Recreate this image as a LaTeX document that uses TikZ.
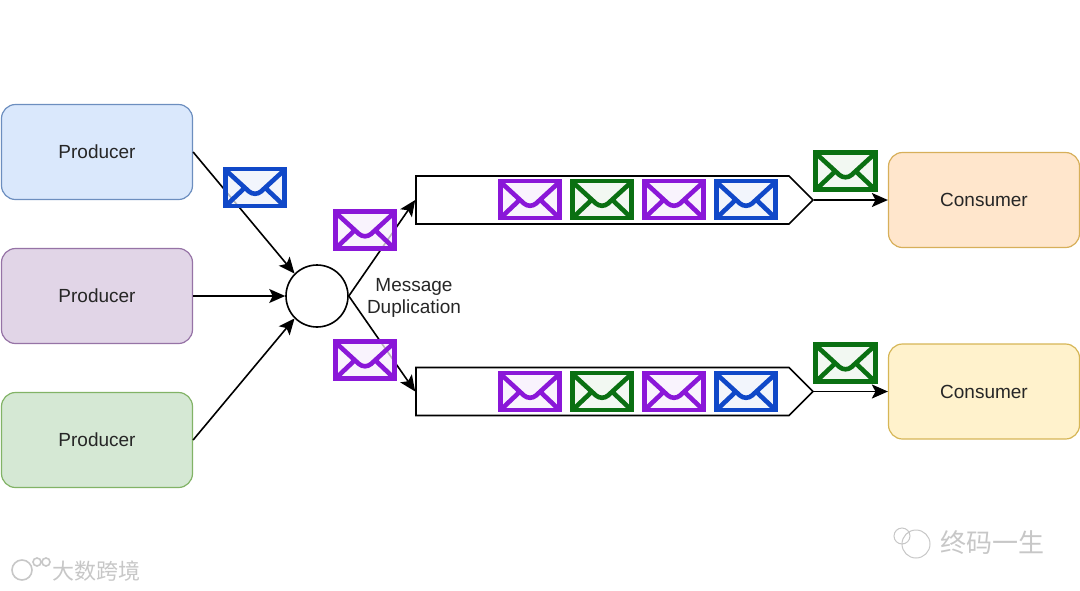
\documentclass[tikz,border=0pt]{standalone}
\usepackage{fontspec}
\setmainfont{Liberation Sans}
\newfontfamily\cjk{Noto Sans CJK SC}
\usetikzlibrary{arrows.meta,shapes.symbols}

\definecolor{envblue}{HTML}{1048C8}
\definecolor{envpurple}{HTML}{8A17D8}
\definecolor{envgreen}{HTML}{0A7012}

\tikzset{
  basic/.style    = {draw, rounded corners=14pt, minimum width=191pt, minimum height=95pt, line width=1.2pt,
                     font=\fontsize{19}{22}\selectfont, text=black!85},
  producer/.style = {basic},
  consumer/.style = {basic},
  queue/.style    = {draw, line width=1.6pt, shape=signal, signal to=east, signal pointer angle=90,
                     minimum width=397pt, minimum height=48pt, inner sep=0pt},
  envelope/.style = {draw=#1, fill=#1!7, fill opacity=.75, line width=4.6pt, minimum width=59.5pt, minimum height=37pt,
                     inner sep=0pt, path picture={
                       \draw[#1, line width=4.6pt, shift={(path picture bounding box.center)}]
                         (-30,-18) -- (-6,4) to[bend right=40] (6,4) -- (30,-18)
                         (-30,19) -- (-11,1) (30,19) -- (11,1);}},
  mark text/.style = {font=\cjk\fontsize{#1}{#1}\selectfont, text=black!22}
}

\begin{document}
\begin{tikzpicture}[x=1pt, y=-1pt, >={Stealth[length=16pt,width=14pt,inset=3.5pt]}]
\useasboundingbox (0,0) rectangle (1080,590);

% sources on the left
\node[producer, fill={rgb,255:red,218;green,232;blue,252}, draw={rgb,255:red,108;green,142;blue,191}] (p1) at (97,152) {Producer};
\node[producer, fill={rgb,255:red,225;green,213;blue,231}, draw={rgb,255:red,150;green,115;blue,166}] (p2) at (97,296) {Producer};
\node[producer, fill={rgb,255:red,213;green,232;blue,212}, draw={rgb,255:red,130;green,179;blue,102}] (p3) at (97,440) {Producer};

% the fan-out point and its label
\node[draw, circle, line width=1.6pt, minimum size=62pt, inner sep=0pt] (dup) at (317,296) {};
\node[align=center, font=\fontsize{19}{22}\selectfont, text=black!85] (duptext) at (414,298) {Message\\Duplication};

% the two queues
\node[queue] (q1) at (602.5,200) {};
\node[queue] (q2) at (602.5,391.5) {};

% readers on the right
\node[consumer, fill={rgb,255:red,255;green,230;blue,204}, draw={rgb,255:red,215;green,175;blue,90}] (c1) at (984,200) {Consumer};
\node[consumer, fill={rgb,255:red,255;green,242;blue,204}, draw={rgb,255:red,214;green,182;blue,86}] (c2) at (984,391.5) {Consumer};

% lines into and out of the circle
\draw[->, line width=1.6pt] (p1.east) -- (dup.135);
\draw[->, line width=1.6pt] (p2.east) -- (dup.west);
\draw[->, line width=1.6pt] (p3.east) -- (dup.225);
\draw[->, line width=1.6pt] (dup.east) -- (q1.west);
\draw[->, line width=1.6pt] (dup.east) -- (q2.west);
\draw[->, line width=1.6pt] (q1.east) -- (c1.west);
\draw[->, line width=1.6pt] (q2.east) -- (c2.west);

% messages on the lines
\node[envelope=envblue] (m1) at (255,187.5) {};
\node[envelope=envpurple] (m2) at (365,230) {};
\node[envelope=envpurple] (m3) at (365,360) {};
\node[envelope=envgreen] (m4) at (845.5,171) {};
\node[envelope=envgreen] (m5) at (845.5,363) {};

% messages inside the queues
\foreach \value/\x/\col in {1/530/envpurple,2/602/envgreen,3/674/envpurple,4/746/envblue}{
  \node[envelope=\col] (q1m\value) at (\x,199.5) {};
  \node[envelope=\col] (q2m\value) at (\x,391.5) {};
}

% watermarks
\node[mark text=26, anchor=west, inner sep=0pt] (wm1) at (940,543) {终码一生};
\node[mark text=22, anchor=west, inner sep=0pt] (wm2) at (52,571) {大数跨境};
\draw[black!22, line width=1pt] (916,544) circle (14pt) (902,536) circle (8pt);
\draw[black!22, line width=1.6pt] (22,570) circle (10pt) (37,562) circle (4pt) (46,562) circle (4pt);
\end{tikzpicture}
\end{document}
